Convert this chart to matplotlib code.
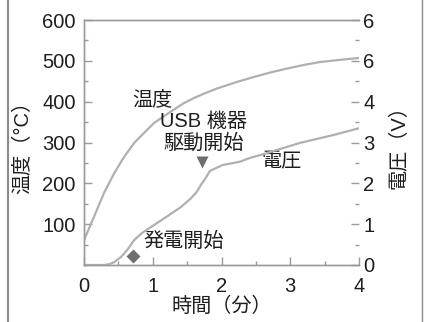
import matplotlib
matplotlib.use("Agg")
import matplotlib.pyplot as plt
from matplotlib.lines import Line2D
from matplotlib.ticker import MultipleLocator

plt.rcParams['font.family'] = ['Liberation Sans', 'Noto Sans CJK JP', 'DejaVu Sans']

# temperature curve (time in min, deg C)
temp_t = [0.0, 0.145, 0.29, 0.44, 0.58, 0.73, 0.87, 1.02, 1.16, 1.31, 1.45, 1.6,
          1.75, 1.93, 2.2, 2.46, 2.7, 2.95, 3.2, 3.43, 3.7, 4.0]
temp_c = [61, 118, 176, 225, 264, 299, 323, 348, 364, 381, 396, 409,
          420, 432, 447, 460, 471, 481, 490, 497, 502, 507]

# voltage curve (time in min, V)
volt_t = [0.0, 0.2, 0.29, 0.37, 0.44, 0.54, 0.63, 0.73, 0.84, 1.02, 1.2, 1.41,
          1.56, 1.64, 1.7, 1.77, 1.83, 1.89, 2.02, 2.27, 2.41, 2.66, 3.14, 3.62, 4.0]
volt_v = [0.0, 0.0, 0.0, 0.02, 0.07, 0.2, 0.37, 0.61, 0.78, 0.98, 1.18, 1.42,
          1.64, 1.79, 1.96, 2.13, 2.3, 2.35, 2.45, 2.53, 2.62, 2.74, 2.99, 3.18, 3.35]

# event markers
gen_start = (0.71, 0.22)      # 発電開始 (diamond)
usb_start = (1.72, 2.52)      # USB 機器駆動開始 (triangle)

left_ticks = [100, 200, 300, 400, 500, 600]
right_ticks = [0, 1, 2, 3, 4, 5, 6]
right_labels = ["0", "1", "2", "3", "4", "6", "6"]
x_ticks = [0, 1, 2, 3, 4]

line_col = "#b0b0b0"
axis_col = "#9a9a9a"
text_col = "#1e1e1e"
mark_col = "#6e6e6e"
fs = 14.5

fig = plt.figure(figsize=(4.24, 3.22), dpi=100)
ax = fig.add_axes([84 / 424, 1 - 265 / 322, 275 / 424, 245 / 322])
ax2 = ax.twinx()

ax.plot(temp_t, temp_c, color=line_col, lw=1.6)
ax2.plot(volt_t, volt_v, color=line_col, lw=1.6)
ax2.plot(*gen_start, marker="D", ms=7, color=mark_col, mec="none")
ax2.plot(*usb_start, marker="v", ms=8.5, color=mark_col, mec="none")

ax.set_xlim(0, 4)
ax.set_ylim(0, 600)
ax2.set_ylim(0, 6)

ax.set_xticks(x_ticks)
ax.xaxis.set_minor_locator(MultipleLocator(0.5))
ax.set_yticks(left_ticks)
ax.yaxis.set_minor_locator(MultipleLocator(50))
ax2.set_yticks(right_ticks)
ax2.set_yticklabels(right_labels)
ax2.yaxis.set_minor_locator(MultipleLocator(0.5))

for a in (ax, ax2):
    for s in a.spines.values():
        s.set_color(axis_col)
        s.set_linewidth(1.0)
    a.spines["right"].set_visible(False)
    a.tick_params(which="major", direction="in", length=6, width=1, color=axis_col,
                  labelsize=fs, labelcolor=text_col, pad=6)
    a.tick_params(which="minor", direction="in", length=3, width=1, color=axis_col)
ax.tick_params(axis="x", pad=9)
ax2.tick_params(axis="y", pad=3)

ax.set_xlabel("時間（分）", fontsize=fs, color=text_col, labelpad=0)
ax.set_ylabel("温度（°C）", fontsize=fs, color=text_col, labelpad=7)
ax2.set_ylabel("電圧（V）", fontsize=fs, color=text_col, labelpad=11)

ax.text(1.0, 404, "温度", fontsize=fs, color=text_col, ha="center", va="center")
ax.text(1.74, 352, "USB 機器", fontsize=fs, color=text_col, ha="center", va="center")
ax.text(1.74, 298, "駆動開始", fontsize=fs, color=text_col, ha="center", va="center")
ax.text(2.87, 252, "電圧", fontsize=fs, color=text_col, ha="center", va="center")
ax.text(1.45, 57, "発電開始", fontsize=fs, color=text_col, ha="center", va="center")

fig.add_artist(Line2D([7.5 / 424, 7.5 / 424], [0, 1], color="#8a8a8a", lw=1.5))
fig.add_artist(Line2D([421.5 / 424, 421.5 / 424], [0, 1], color="#8a8a8a", lw=1.0))

fig.savefig("out.png", dpi=100)
